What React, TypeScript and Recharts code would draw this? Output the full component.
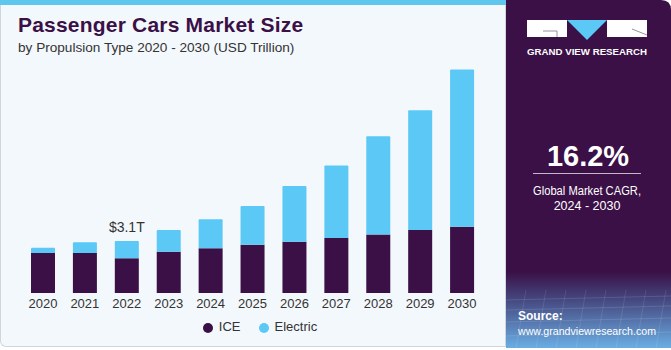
import React from 'react';
import { BarChart, Bar, XAxis, YAxis, Legend, LabelList } from 'recharts';

const years = ['2020', '2021', '2022', '2023', '2024', '2025', '2026', '2027', '2028', '2029', '2030'];
const ice = [2.39, 2.39, 2.07, 2.46, 2.67, 2.88, 3.06, 3.28, 3.48, 3.76, 3.94];
const electric = [0.31, 0.63, 1.03, 1.3, 1.72, 2.31, 3.32, 4.31, 5.86, 7.13, 9.38];
const labelIndex = 2;
const labelText = '$3.1T';
const legendOrder = ['ICE', 'Electric'];

const PURPLE = '#3a1046';
const BLUE = '#5bc8f5';
const FONT = '"Liberation Sans", Arial, sans-serif';

const data = years.map((year, i) => ({ year, ice: ice[i], electric: electric[i] }));

function TopLabel(props: any) {
  const { x, y, width, index } = props;
  if (index !== labelIndex) return null;
  return (
    <text x={x + width / 2} y={y - 9} textAnchor="middle" fill="#333" fontSize={14} fontFamily={FONT}>
      {labelText}
    </text>
  );
}

function SidePanel() {
  return (
    <svg width={165} height={348} style={{ position: 'absolute', left: 0, top: 0 }}>
      <defs>
        <linearGradient id="fade" x1="0" y1="0" x2="0" y2="1">
          <stop offset="0" stopColor={PURPLE} />
          <stop offset="0.78" stopColor={PURPLE} />
          <stop offset="0.86" stopColor="#45477f" />
          <stop offset="1" stopColor="#6aaee4" />
        </linearGradient>
      </defs>
      <path d="M0 0 H155 Q165 0 165 10 V348 H0 Z" fill="url(#fade)" />
      {/* faint perspective grid */}
      {[300, 310, 322, 336].map((y) => (
        <line key={y} x1={0} y1={y} x2={165} y2={y - 4} stroke="#ffffff" strokeOpacity={0.12} />
      ))}
      {[0, 20, 40, 60, 80, 100, 120, 140, 160].map((x) => (
        <line key={x} x1={x} y1={290} x2={x - 10} y2={348} stroke="#ffffff" strokeOpacity={0.1} />
      ))}
      <rect x={21} y={20} width={40} height={17} fill="#fff" />
      <polyline points="37,31 51,31 51,37" fill="none" stroke="#9a8fa3" strokeWidth={1} />
      <polygon points="61,20 101,20 81,40" fill={BLUE} />
      <rect x={101} y={20} width={40} height={17} fill="#fff" />
      <line x1={126} y1={29} x2={141} y2={35} stroke="#9a8fa3" strokeWidth={1} />
      <text x={81} y={55} textAnchor="middle" fill="#fff" fontSize={9.5} fontWeight={700} fontFamily={FONT} textLength={120} lengthAdjust="spacingAndGlyphs">
        GRAND VIEW RESEARCH
      </text>
      <text x={82} y={166} textAnchor="middle" fill="#fff" fontSize={29} fontWeight={700} fontFamily={FONT}>
        16.2%
      </text>
      <line x1={27} y1={173.5} x2={135} y2={173.5} stroke="#fff" strokeOpacity={0.7} />
      <text x={81} y={195} textAnchor="middle" fill="#fff" fontSize={12.5} fontFamily={FONT} textLength={108} lengthAdjust="spacingAndGlyphs">
        Global Market CAGR,
      </text>
      <text x={81} y={210} textAnchor="middle" fill="#fff" fontSize={12.5} fontFamily={FONT}>
        2024 - 2030
      </text>
      <text x={12} y={320} fill="#fff" fontSize={12} fontWeight={700} fontFamily={FONT}>
        Source:
      </text>
      <text x={12} y={335} fill="#fff" fontSize={10.8} fontFamily={FONT} textLength={138} lengthAdjust="spacingAndGlyphs">
        www.grandviewresearch.com
      </text>
    </svg>
  );
}

export default function App() {
  return (
    <div style={{ position: 'absolute', left: 0, top: 0, width: 671, height: 350, background: '#fff', overflow: 'hidden' }}>
      <div
        style={{
          position: 'absolute',
          left: 0,
          top: 0,
          width: 506,
          height: 347,
          boxSizing: 'border-box',
          background: '#f3f8fc',
          border: '1px solid #d2d6da',
          borderTop: 'none',
          borderBottomLeftRadius: 6,
        }}
      />
      <div style={{ position: 'absolute', left: 0, top: 0, width: 506, height: 5, background: '#5fc6ee' }} />
      <div style={{ position: 'absolute', left: 18, top: 13, fontFamily: FONT, fontWeight: 700, fontSize: 21, letterSpacing: 0.2, color: PURPLE }}>
        Passenger Cars Market Size
      </div>
      <div style={{ position: 'absolute', left: 18, top: 40, fontFamily: FONT, fontSize: 13.6, color: '#333' }}>
        by Propulsion Type 2020 - 2030 (USD Trillion)
      </div>
      <div style={{ position: 'absolute', left: 0, top: 0 }}>
        <BarChart width={506} height={350} data={data} margin={{ top: 58, right: 23, left: 22, bottom: 37 }}>
          <XAxis
            dataKey="year"
            height={20}
            axisLine={false}
            tickLine={false}
            tickSize={4}
            tickMargin={2}
            interval={0}
            tick={{ fontSize: 13, fill: '#333', fontFamily: FONT }}
          />
          <YAxis hide domain={[0, 14]} />
          <Legend
            layout="horizontal"
            verticalAlign="middle"
            align="center"
            iconType="circle"
            iconSize={10}
            itemSorter={(item: any) => legendOrder.indexOf(item.value)}
            wrapperStyle={{ top: 319, left: 12, width: 506, fontFamily: FONT, fontSize: 13 }}
            formatter={(value: string) => (
              <span style={{ color: '#333', marginLeft: 2, marginRight: value === 'ICE' ? 8 : 0 }}>{value}</span>
            )}
          />
          <Bar dataKey="ice" name="ICE" stackId="a" fill={PURPLE} barSize={24} isAnimationActive={false} />
          <Bar dataKey="electric" name="Electric" stackId="a" fill={BLUE} barSize={24} radius={[1, 1, 0, 0]} isAnimationActive={false}>
            <LabelList dataKey="electric" content={TopLabel} />
          </Bar>
        </BarChart>
      </div>
      <div style={{ position: 'absolute', left: 506, top: 0, width: 165, height: 348 }}>
        <SidePanel />
      </div>
    </div>
  );
}
